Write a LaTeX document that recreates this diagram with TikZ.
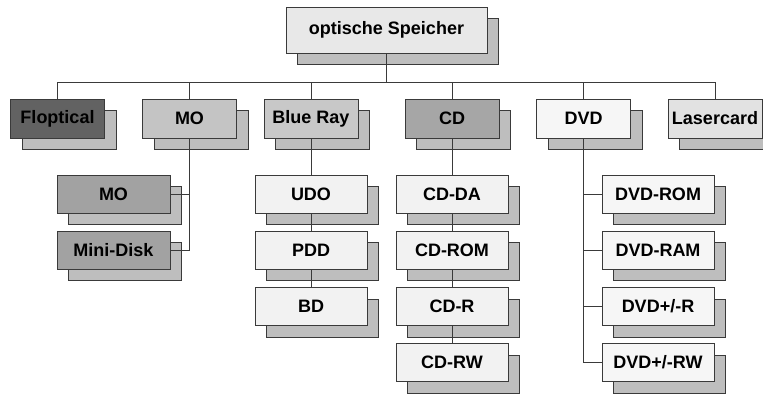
\documentclass[tikz,border=0pt]{standalone}
\usepackage{fontspec}
\setmainfont{Liberation Sans}
\usetikzlibrary{shadows}
\definecolor{bordc}{HTML}{3A3A3A}
\definecolor{shadc}{HTML}{BEBEBE}
\definecolor{ctop}{HTML}{E8E8E8}
\definecolor{cflop}{HTML}{626262}
\definecolor{cmo}{HTML}{C4C4C4}
\definecolor{cblue}{HTML}{C8C8C8}
\definecolor{ccd}{HTML}{A6A6A6}
\definecolor{cdvd}{HTML}{F6F6F6}
\definecolor{claser}{HTML}{E2E2E2}
\definecolor{cmod}{HTML}{A2A2A2}
\definecolor{clight}{HTML}{F2F2F2}
\tikzset{
  box/.style={draw=bordc, line width=0.9pt, inner sep=0pt,
    font=\bfseries\fontsize{18}{20}\selectfont,
    general shadow={shadow xshift=11.5pt, shadow yshift=-11.5pt, fill=shadc, draw=bordc, line width=0.9pt}},
  lone/.style={box, minimum width=94pt, minimum height=39pt},
  ltwo/.style={box, minimum width=112pt, minimum height=38pt},
  conn/.style={draw=bordc, line width=0.9pt}
}
\begin{document}
\begin{tikzpicture}[x=1pt,y=-1pt]
\useasboundingbox[fill=white] (0,0) rectangle (763,394);
\node[box, minimum width=201pt, minimum height=46pt, fill=ctop] (top) at (386.5,30) {optische Speicher};
\node[lone, fill=cflop] (flop) at (57.5,118.5) {Floptical};
\node[lone, fill=cmo] (mo) at (189.5,118.5) {MO};
\node[lone, fill=cblue] (blue) at (311,118.5) {Blue Ray};
\node[lone, fill=ccd] (cd) at (452,118.5) {CD};
\node[lone, fill=cdvd] (dvd) at (583.5,118.5) {DVD};
\node[lone, fill=claser] (laser) at (715,118.5) {Lasercard};
% MO children
\node[ltwo, minimum width=113pt, fill=cmod] (mo2) at (113.5,194) {MO};
\node[ltwo, minimum width=113pt, fill=cmod] (mini) at (113.5,250) {Mini-Disk};
% Blue Ray children
\node[ltwo, fill=clight] (udo) at (311,194) {UDO};
\node[ltwo, fill=clight] (pdd) at (311,250) {PDD};
\node[ltwo, fill=clight] (bd) at (311,306.5) {BD};
% CD children
\node[ltwo, fill=clight] (cdda) at (452,194) {CD-DA};
\node[ltwo, fill=clight] (cdrom) at (452,250) {CD-ROM};
\node[ltwo, fill=clight] (cdr) at (452,306.5) {CD-R};
\node[ltwo, fill=clight] (cdrw) at (452,362.5) {CD-RW};
% DVD children
\node[ltwo, fill=cdvd] (dvdrom) at (658,194) {DVD-ROM};
\node[ltwo, fill=cdvd] (dvdram) at (658,250) {DVD-RAM};
\node[ltwo, fill=cdvd] (dvdr) at (658,306.5) {DVD+/-R};
\node[ltwo, fill=cdvd] (dvdrw) at (658,362.5) {DVD+/-RW};
% connectors
\coordinate (busy) at (0,82);
\draw[conn] (flop.north) |- (laser.north |- busy) -- (laser.north);
\draw[conn] (top.south) -- (top.south |- busy);
\foreach \n in {mo,blue,cd,dvd} \draw[conn] (\n.north) -- (\n.north |- busy);
\draw[conn] (mo.south) |- (mini.east);
\draw[conn] (mo.south |- mo2.east) -- (mo2.east);
\draw[conn] (blue.south) -- (udo.north);
\draw[conn] (udo.south) -- (pdd.north);
\draw[conn] (pdd.south) -- (bd.north);
\draw[conn] (cd.south) -- (cdda.north);
\draw[conn] (cdda.south) -- (cdrom.north);
\draw[conn] (cdrom.south) -- (cdr.north);
\draw[conn] (cdr.south) -- (cdrw.north);
\draw[conn] (dvd.south) |- (dvdrw.west);
\foreach \n in {dvdrom,dvdram,dvdr} \draw[conn] (dvd.south |- \n.west) -- (\n.west);
\end{tikzpicture}
\end{document}
